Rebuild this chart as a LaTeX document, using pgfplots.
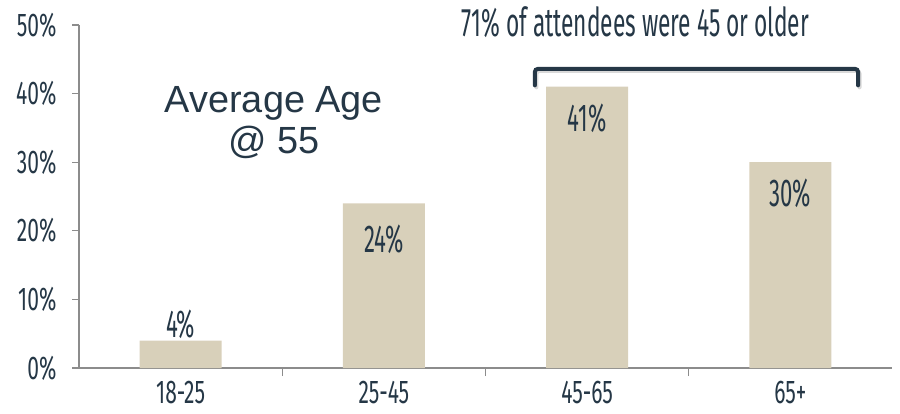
\documentclass[border=0pt]{standalone}
\usepackage{fontspec}
\usepackage{pgfplots}
\pgfplotsset{compat=1.18}
\setmainfont{Liberation Sans}
\newfontfamily\agency{Fira Sans}[FakeStretch=0.57]
\newfontfamily\agencyt{Fira Sans}[FakeStretch=0.64]
\definecolor{barc}{HTML}{D8D0BA}
\definecolor{navy}{HTML}{253746}
\definecolor{axc}{HTML}{8C8C8C}
\begin{document}
\begin{tikzpicture}
\useasboundingbox (0,0) rectangle (900bp,414bp);
\begin{axis}[
  at={(79bp,46bp)}, anchor=south west,
  scale only axis, width=813bp, height=343bp,
  xmin=-0.5, xmax=3.5, ymin=0, ymax=50,
  axis lines*=left,
  axis line style={axc, line width=1.3bp},
  tick style={axc, line width=1.3bp},
  tick align=outside,
  xtick={0,1,2,3},
  xticklabels={18-25,25-45,45-65,65+},
  major x tick style={draw=none},
  minor xtick={0.5,1.5,2.5},
  minor tick length=8bp,
  major tick length=7bp,
  ytick={0,10,20,30,40,50},
  yticklabel={\pgfmathprintnumber{\tick}\%},
  /pgf/number format/assume math mode=true,
  tick label style={font=\agencyt\fontsize{33}{33}\selectfont, text=navy},
  yticklabel style={xshift=-12bp},
  xticklabel style={yshift=-3bp},
  clip=false,
]
\addplot[ybar, bar width=82bp, fill=barc, draw=none] coordinates {(0,4) (1,24) (2,41) (3,30)};
\addplot[draw=none, mark=none, nodes near coords, point meta=explicit symbolic,
  nodes near coords style={anchor=center, font=\agency\fontsize{39}{39}\selectfont, text=navy}]
  coordinates {(0,6.3)[4\%] (1,18.7)[24\%] (2,36.4)[41\%] (3,25.5)[30\%]};
\draw[black!25, line width=4bp, rounded corners=3bp, line cap=round, opacity=0.6]
  ([xshift=1.5bp,yshift=-2bp]axis cs:1.743,41.2) -- ([xshift=1.5bp,yshift=-2bp]axis cs:1.743,43.6) -- ([xshift=1.5bp,yshift=-2bp]axis cs:3.333,43.6) -- ([xshift=1.5bp,yshift=-2bp]axis cs:3.333,41.2);
\draw[navy, line width=4bp, rounded corners=3bp, line cap=round]
  (axis cs:1.743,41.2) -- (axis cs:1.743,43.6) -- (axis cs:3.333,43.6) -- (axis cs:3.333,41.2);
\node[font=\agency\fontsize{40}{40}\selectfont, text=navy] at (axis cs:2.238,50.4) {71\% of attendees were 45 or older};
\node[anchor=base, font=\fontsize{38}{41}\selectfont, text=navy] at (axis cs:0.459,37.3) {Average Age};
\node[anchor=base, font=\fontsize{38}{41}\selectfont, text=navy] at (axis cs:0.459,31.3) {@ 55};
\end{axis}
\end{tikzpicture}
\end{document}
